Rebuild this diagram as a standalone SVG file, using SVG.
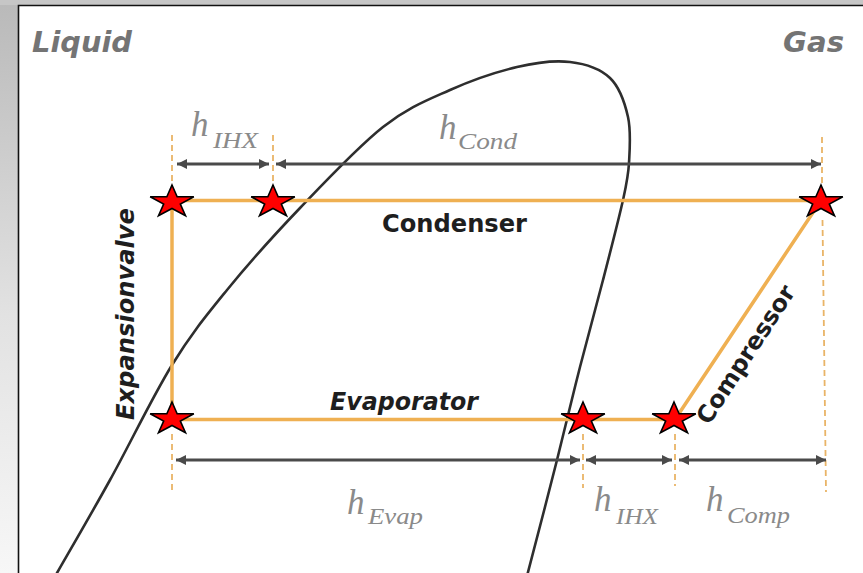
<svg xmlns="http://www.w3.org/2000/svg" width="863" height="573" viewBox="0 0 863 573">
<defs>
  <linearGradient id="side" x1="0" y1="0" x2="0" y2="1">
    <stop offset="0" stop-color="#b9b9b9"/>
    <stop offset="0.55" stop-color="#e2e2e2"/>
    <stop offset="1" stop-color="#f7f7f7"/>
  </linearGradient>
  <marker id="ah" viewBox="0 0 10 10" refX="10" refY="5" markerWidth="11" markerHeight="10" orient="auto-start-reverse" markerUnits="userSpaceOnUse">
    <path d="M0,0 L10,5 L0,10 Z" fill="#4a4a4a"/>
  </marker>
  <polygon id="star" points="0,-17 5.16,-5.26 21.83,-5.25 8.34,2.01 13.49,13.75 0,6.5 -13.49,13.75 -8.34,2.01 -21.83,-5.25 -5.16,-5.26"/>
</defs>
<style>
  .proc { stroke: #efb052; stroke-width: 3.5; fill: none; stroke-linecap: round; }
  .dash { stroke: #e9b467; stroke-width: 1.8; fill: none; stroke-dasharray: 6 4; }
  .arr { stroke: #4a4a4a; stroke-width: 3; fill: none; marker-start: url(#ah); marker-end: url(#ah); }
  .dome { stroke: #2e2e2e; stroke-width: 2.6; fill: none; stroke-linecap: round; stroke-linejoin: round; }
  .st { fill: #ff0000; stroke: #000; stroke-width: 1.6; stroke-linejoin: miter; }
  .phase { font-family: "DejaVu Sans", Verdana, sans-serif; font-weight: bold; font-style: italic; font-size: 29px; fill: #747474; }
  .comp { font-family: "DejaVu Sans", Verdana, sans-serif; font-weight: bold; font-size: 24px; fill: #1e1e1e; }
  .it { font-style: italic; }
  .h { font-family: "Liberation Serif", "Times New Roman", serif; font-style: italic; fill: #8a8a8a; }
  .hb { font-size: 35px; }
  .hs { font-size: 24px; }
</style>

<!-- background -->
<rect x="0" y="0" width="863" height="573" fill="#ffffff"/>
<rect x="0" y="0" width="18" height="573" fill="url(#side)"/>
<rect x="0" y="0" width="863" height="5" fill="#c6c6c6"/>
<path d="M18.5,573 L18.5,5.5 L863,5.5" stroke="#111" stroke-width="1.6" fill="none"/>

<!-- saturation dome -->
<path class="dome" d="M57,573 C65.8,557.5 90.8,514.7 110,480 C129.2,445.3 152.5,396.7 172,365 C191.5,333.3 205.7,316.2 227,290 C248.3,263.8 274,235.2 300,208 C326,180.8 358,146.7 383,127 C408,107.3 427.7,100 450,90 C472.3,80 497,71.7 517,67 C537,62.3 554.5,60.2 570,62 C585.5,63.8 600.3,68.8 610,78 C619.7,87.2 624.8,102.8 628,117 C631.2,131.2 629.8,149.2 629,163 C628.2,176.8 627.3,180.5 623,200 C618.7,219.5 610.2,252.2 603,280 C595.8,307.8 587.7,337 580,367 C572.3,397 565.7,425.7 557,460 C548.3,494.3 532.8,554.2 527,576"/>

<!-- connectors -->
<g id="connectors">
  <g id="guides">
    <line class="dash" x1="172" y1="135" x2="172" y2="188"/>
    <line class="dash" x1="273" y1="135" x2="273" y2="188"/>
    <line class="dash" x1="822" y1="137" x2="822" y2="184"/>
    <line class="dash" x1="822.5" y1="220" x2="826" y2="492"/>
    <line class="dash" x1="172" y1="434" x2="172" y2="490"/>
    <line class="dash" x1="583" y1="434" x2="583" y2="488"/>
    <line class="dash" x1="675" y1="434" x2="675" y2="486"/>
  </g>
  <g id="cycle">
    <line id="condenser-line" class="proc" x1="172" y1="200.5" x2="821" y2="200.5"/>
    <line id="evaporator-line" class="proc" x1="172" y1="419.5" x2="675" y2="419.5"/>
    <line id="valve-line" class="proc" x1="172" y1="200.5" x2="172" y2="419.5"/>
    <line id="compressor-line" class="proc" x1="675" y1="419.5" x2="821" y2="200.5"/>
  </g>
  <g id="dimensions">
    <line class="arr" x1="177" y1="164" x2="269" y2="164"/>
    <line class="arr" x1="276" y1="164" x2="821" y2="164"/>
    <line class="arr" x1="176" y1="460" x2="580" y2="460"/>
    <line class="arr" x1="586" y1="460" x2="672" y2="460"/>
    <line class="arr" x1="679" y1="460" x2="826" y2="460"/>
  </g>
</g>

<!-- state points -->
<g id="state-1"><use href="#star" class="st" x="172" y="202"/></g>
<g id="state-2"><use href="#star" class="st" x="273" y="202"/></g>
<g id="state-3"><use href="#star" class="st" x="821" y="202"/></g>
<g id="state-4"><use href="#star" class="st" x="172" y="419"/></g>
<g id="state-5"><use href="#star" class="st" x="583" y="419"/></g>
<g id="state-6"><use href="#star" class="st" x="674" y="419"/></g>

<!-- labels -->
<g id="label-liquid"><text class="phase" x="32" y="52" textLength="100" lengthAdjust="spacingAndGlyphs">Liquid</text></g>
<g id="label-gas"><text class="phase" x="783" y="52" textLength="61" lengthAdjust="spacingAndGlyphs">Gas</text></g>

<g id="condenser"><text class="comp" x="382" y="232" textLength="145" lengthAdjust="spacingAndGlyphs">Condenser</text></g>
<g id="evaporator"><text class="comp it" x="330" y="410" textLength="148" lengthAdjust="spacingAndGlyphs">Evaporator</text></g>
<g id="expansionvalve"><text class="comp it" transform="translate(134,420) rotate(-90)" x="0" y="0" textLength="212" lengthAdjust="spacingAndGlyphs">Expansionvalve</text></g>
<g id="compressor"><text class="comp" transform="translate(709,426) rotate(-57)" x="0" y="0" textLength="160" lengthAdjust="spacingAndGlyphs">Compressor</text></g>

<g id="h-ihx-top"><text class="h"><tspan class="hb" x="191" y="136">h</tspan><tspan class="hs" x="213" y="148" textLength="45" lengthAdjust="spacingAndGlyphs">IHX</tspan></text></g>
<g id="h-cond"><text class="h"><tspan class="hb" x="439" y="139">h</tspan><tspan class="hs" x="458" y="149" textLength="59" lengthAdjust="spacingAndGlyphs">Cond</tspan></text></g>
<g id="h-evap"><text class="h"><tspan class="hb" x="347" y="514">h</tspan><tspan class="hs" x="368" y="524" textLength="55" lengthAdjust="spacingAndGlyphs">Evap</tspan></text></g>
<g id="h-ihx-bottom"><text class="h"><tspan class="hb" x="594" y="511">h</tspan><tspan class="hs" x="616" y="524" textLength="42" lengthAdjust="spacingAndGlyphs">IHX</tspan></text></g>
<g id="h-comp"><text class="h"><tspan class="hb" x="706" y="511">h</tspan><tspan class="hs" x="727" y="523" textLength="63" lengthAdjust="spacingAndGlyphs">Comp</tspan></text></g>
</svg>
